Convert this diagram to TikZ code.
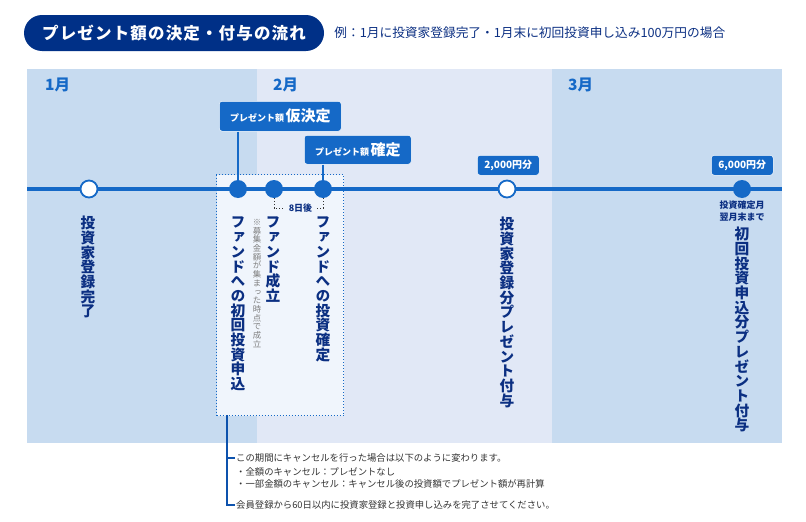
\documentclass[tikz,border=0pt]{standalone}
\usepackage{fontspec}
\setmainfont{Noto Sans CJK JP}
\newfontfamily\tatefont[RawFeature=+vert]{Noto Sans CJK JP}
\usepackage{tikz}
\usetikzlibrary{positioning}
\definecolor{navy}{HTML}{003087}
\definecolor{inktate}{HTML}{0B2F82}
\definecolor{mainblue}{HTML}{1569C7}
\definecolor{bandA}{HTML}{C7DBF0}
\definecolor{bandB}{HTML}{E1E8F6}
\definecolor{boxfill}{HTML}{F0F5FC}
\definecolor{notegray}{HTML}{333333}
\makeatletter
\newcommand{\tate}[1]{\vbox{\@tfor\tatechar:=#1\do{\hbox to 1.1em{\hss\tatechar\hss}}}}
\makeatother
\tikzstyle{band} = [rectangle, anchor=north west, minimum height=374pt, inner sep=0pt, outer sep=0pt]
\tikzstyle{month} = [anchor=west, inner sep=0pt, text=mainblue, font=\fontsize{15.5}{16}\selectfont\bfseries]
\tikzstyle{pointopen} = [circle, minimum size=17pt, inner sep=0pt, draw=mainblue, line width=1.8pt, fill=white]
\tikzstyle{pointfull} = [circle, minimum size=18pt, inner sep=0pt, draw=none, fill=mainblue]
\tikzstyle{flag} = [rectangle, rounded corners=3pt, inner sep=0pt, fill=mainblue, draw=white, line width=0.5pt, text=white, anchor=north west]
\tikzstyle{amount} = [flag, minimum width=62pt, minimum height=20pt, font=\fontsize{10}{10}\selectfont\bfseries]
\tikzstyle{tatebold} = [anchor=north, inner sep=0pt, text=inktate, font=\tatefont\bfseries\fontsize{14.7}{14.7}\selectfont]
\tikzstyle{tatenote} = [anchor=north, inner sep=0pt, text=gray, font=\tatefont\fontsize{8.4}{8.7}\selectfont]
\tikzstyle{noteline} = [anchor=west, inner sep=0pt, text=notegray, font=\fontsize{9.35}{10}\selectfont]
\tikzstyle{smallbold} = [inner sep=0pt, text=inktate, font=\fontsize{9}{9}\selectfont\bfseries]
\tikzstyle{stem} = [line width=2pt, draw=mainblue]
\tikzstyle{dots} = [dotted, line width=1pt, draw=notegray]
\tikzstyle{bracket} = [line width=1.6pt, draw=mainblue!60!navy]
\begin{document}
\begin{tikzpicture}[x=1pt, y=-1pt]
    \useasboundingbox (0,0) rectangle (806,522);
    % header
    \node (title) [rectangle, rounded corners=18pt, minimum width=300pt, minimum height=36pt, inner sep=0pt, fill=navy, text=white, font=\fontsize{16.5}{17}\selectfont\bfseries] at (174,33) {\addfontfeature{LetterSpace=7}プレゼント額の決定・付与の流れ};
    \node (example) [anchor=west, inner sep=0pt, text=inktate, font=\fontsize{12.7}{13}\selectfont, right=10pt of title] {例：1月に投資家登録完了・1月末に初回投資申し込み100万円の場合};

    % months
    \node (bandJan) [band, minimum width=230pt, fill=bandA] at (27,69) {};
    \node (bandFeb) [band, minimum width=295pt, fill=bandB] at (257,69) {};
    \node (bandMar) [band, minimum width=230pt, fill=bandA] at (552,69) {};
    \node (jan) [month] at (45,85) {1月};
    \node (feb) [month] at (273,85) {2月};
    \node (mar) [month] at (568,85) {3月};

    % period box
    \node (period) [rectangle, anchor=north west, minimum width=127pt, minimum height=241pt, inner sep=0pt, fill=boxfill, draw=mainblue, dotted, line width=1pt] at (216,174) {};

    % timeline
    \coordinate (lineStart) at (27,189);
    \coordinate (lineEnd) at (782,189);
    \draw [line width=3.5pt, draw=mainblue] (lineStart) -- (lineEnd);

    \node (ptEntry) [pointopen] at (89,189) {};
    \node (ptApply) [pointfull] at (238,189) {};
    \node (ptFund) [pointfull] at (274,189) {};
    \node (ptFix) [pointfull] at (323,189) {};
    \node (ptGiftA) [pointopen] at (507,189) {};
    \node (ptGiftB) [pointfull] at (742,189) {};

    % flags
    \node (flagTemp) [flag, minimum width=122pt, minimum height=30pt] at (219,101) {\fontsize{9}{9}\selectfont\bfseries プレゼント額\,\fontsize{15}{15}\selectfont 仮決定};
    \node (flagFix) [flag, minimum width=107pt, minimum height=29pt] at (304,135) {\fontsize{9}{9}\selectfont\bfseries プレゼント額\,\fontsize{15}{15}\selectfont 確定};
    \node (amountA) [amount] at (477,155) {2,000円分};
    \node (amountB) [amount] at (711,155) {6,000円分};
    \draw [stem] (flagTemp.south -| ptApply) -- (ptApply);
    \draw [stem] (flagFix.south -| ptFix) -- (ptFix);

    % eight days
    \node (days) [smallbold, inner xsep=5pt] at (300.5,208) {8日後};
    \draw [dots] (ptFund.south) |- (days.west);
    \draw [dots] (ptFix.south) |- (days.east);

    % vertical labels
    \node (txtEntry) [tatebold] at (88,216) {\tate{投資家登録完了}};
    \node (txtApply) [tatebold] at (238,217) {\tate{ファンドへの初回投資申込}};
    \node (txtNote) [tatenote] at (257,219) {\tate{※募集金額が集まった時点で成立}};
    \node (txtFund) [tatebold] at (273,217) {\tate{ファンド成立}};
    \node (txtFix) [tatebold] at (323,217) {\tate{ファンドへの投資確定}};
    \node (txtGiftA) [tatebold] at (507,217) {\tate{投資家登録分プレゼント付与}};
    \node (dueA) [smallbold] at (742,205) {投資確定月};
    \node (dueB) [smallbold, below=3.5pt of dueA] {翌月末まで};
    \node (txtGiftB) [tatebold] at (742,227) {\tate{初回投資申込分プレゼント付与}};

    % notes
    \node (noteA) [noteline] at (236,458) {この期間にキャンセルを行った場合は以下のように変わります。};
    \node (noteB) [noteline] at (236,472) {・全額のキャンセル：プレゼントなし};
    \node (noteC) [noteline] at (236,484) {・一部金額のキャンセル：キャンセル後の投資額でプレゼント額が再計算};
    \node (noteD) [noteline] at (236,505) {会員登録から60日以内に投資家登録と投資申し込みを完了させてください。};
    \coordinate (noteRoot) at (227,415);
    \draw [bracket] (noteRoot) |- ([xshift=-1.5pt]noteA.west);
    \draw [bracket] (noteRoot) |- ([xshift=-1.5pt]noteD.west);
\end{tikzpicture}
\end{document}
